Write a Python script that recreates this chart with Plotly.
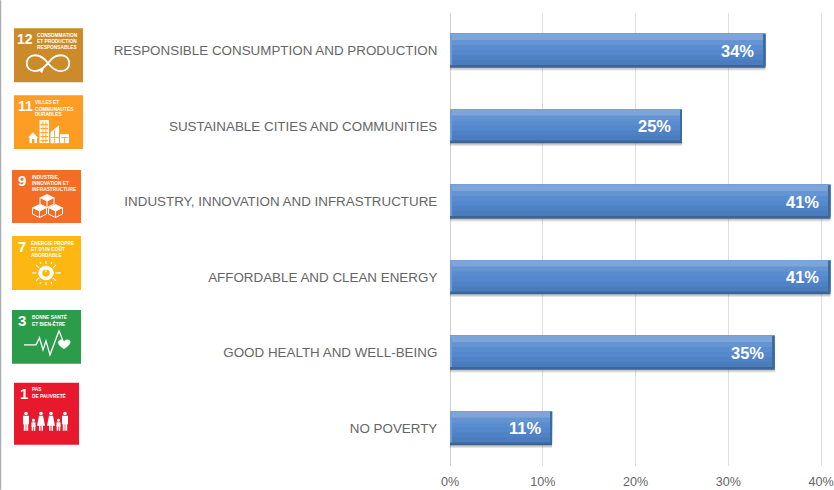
import plotly.graph_objects as go

categories = ["NO POVERTY", "GOOD HEALTH AND WELL-BEING", "AFFORDABLE AND CLEAN ENERGY",
              "INDUSTRY, INNOVATION AND INFRASTRUCTURE", "SUSTAINABLE CITIES AND COMMUNITIES",
              "RESPONSIBLE CONSUMPTION AND PRODUCTION"]
values = [11, 35, 41, 41, 25, 34]
x_ticks = [0, 10, 20, 30, 40]
x_tick_labels = ["0%", "10%", "20%", "30%", "40%"]

W, H = 834, 490
L, R, T, B = 450, 831, 12.7, 466.3


def px(x):
    return (x - L) / (R - L)


def py(y):
    return (B - y) / (B - T)


fig = go.Figure()


def strip(color, offset, width, base=None, xs=None):
    fig.add_bar(y=categories, x=xs if xs is not None else values, base=base, orientation="h",
                marker=dict(color=color, line_width=0), offset=offset, width=width,
                hoverinfo="skip", showlegend=False)


# soft shadow and bevelled body
strip("rgba(90,90,90,0.16)", -0.26, 0.45)
strip("rgba(90,90,90,0.22)", -0.245, 0.45)
strip("#3b6595", -0.225, 0.45)
bands = ["#4b7cbd", "#4f81c5", "#5487cb", "#5a8dcf", "#6494d2", "#7ea5d9"]
for i, c in enumerate(bands):
    # every band runs up to the bar's top, so that the next one overdraws it without a seam
    start = -0.19 + i * 0.0667
    strip(c, start, 0.225 - start)
strip("#6f9bd6", -0.19, 0.40, base=[0] * 6, xs=[0.12] * 6)
strip("#3f6a9e", -0.20, 0.42, base=[v - 0.2 for v in values], xs=[0.2] * 6)

annotations = []
for c, v in zip(categories, values):
    annotations.append(dict(x=v, y=c, xref="x", yref="y", text=f"<b>{v}%</b>", showarrow=False,
                            xanchor="right", xshift=-9, yshift=0,
                            font=dict(family="Liberation Sans", size=16.5, color="white")))

shapes = []


def rect(x0, y0, x1, y1, color):
    shapes.append(dict(type="rect", xref="paper", yref="paper", x0=px(x0), x1=px(x1), y0=py(y0), y1=py(y1),
                       fillcolor=color, line_width=0))


def path(points, color="white", fill=True, width=1.2):
    d = "M " + " L ".join(f"{px(a):.5f},{py(b):.5f}" for a, b in points) + (" Z" if fill else "")
    shapes.append(dict(type="path", xref="paper", yref="paper", path=d,
                       fillcolor=color if fill else "rgba(0,0,0,0)",
                       line=dict(color=color, width=0 if fill else width)))


def curve(cmds, fill=None, line="white", width=1.8):
    out = []
    for c in cmds:
        out.append(c[0] + " " + " ".join(f"{px(c[i]):.5f},{py(c[i + 1]):.5f}" for i in range(1, len(c), 2)))
    shapes.append(dict(type="path", xref="paper", yref="paper", path=" ".join(out),
                       fillcolor=fill or "rgba(0,0,0,0)", line=dict(color=line, width=width)))


def oval(x0, y0, x1, y1, fill=None, line="white", width=1.6):
    shapes.append(dict(type="circle", xref="paper", yref="paper", x0=px(x0), x1=px(x1), y0=py(y0), y1=py(y1),
                       fillcolor=fill or "rgba(0,0,0,0)", line=dict(color=line, width=width)))


rect(0, 0, 1.2, 490, "#a9adb1")

icons = [
    (14, 28, 83, 82, "#cb8b2a", "12", ["CONSOMMATION", "ET PRODUCTION", "RESPONSABLES"], 36),
    (14, 95, 83, 149, "#fd9d24", "11", ["VILLES ET", "COMMUNAUTÉS", "DURABLES"], 34),
    (12, 170, 81, 223, "#f36d25", "9", ["INDUSTRIE,", "INNOVATION ET", "INFRASTRUCTURE"], 31),
    (12, 236, 81, 290, "#fdb713", "7", ["ÉNERGIE PROPRE", "ET D'UN COÛT", "ABORDABLE"], 30),
    (12, 310, 81, 364, "#2b9c4a", "3", ["BONNE SANTÉ", "ET BIEN-ÊTRE"], 31),
    (14, 383, 79, 445, "#e9192d", "1", ["PAS", "DE PAUVRETÉ"], 31),
]
for x0, y0, x1, y1, col, num, lines, tx in icons:
    rect(x0, y0, x1, y1, col)
    annotations.append(dict(xref="paper", yref="paper", x=px(x0 + (11 if len(num) == 2 else 10)), y=py(y0 + 10.5),
                            text=f"<b>{num}</b>", showarrow=False, xanchor="center", yanchor="middle",
                            font=dict(family="Liberation Sans", size=14 if len(num) == 2 else 15, color="white")))
    for i, line in enumerate(lines):
        annotations.append(dict(xref="paper", yref="paper", x=px(tx), y=py(y0 + 7 + i * 6.2),
                                text=f"<b>{line}</b>", showarrow=False, xanchor="left", yanchor="middle", align="left",
                                borderpad=0, font=dict(family="Liberation Sans", size=4.8, color="white")))

# 12: infinity
curve([("M", 48, 63), ("C", 43, 56, 39, 55, 35, 55), ("C", 24, 55, 24, 71, 35, 71), ("C", 41, 71, 44, 67, 48, 63),
       ("C", 52, 58, 55, 55, 61, 55), ("C", 72, 55, 72, 71, 61, 71), ("C", 56, 71, 52, 68, 48, 63)])
path([(38, 69), (44, 68), (42, 73)])
# 11: buildings
rect(39.5, 120, 49, 143, "white")
path([(50.5, 143), (50.5, 132), (59, 125), (59, 143)])
rect(60, 134, 69, 143, "white")
rect(29.5, 137, 37, 143, "white")
path([(28, 137.5), (33, 132), (38, 137.5)])
for yy in (124, 128, 132, 136, 140):
    rect(40.5, yy, 48, yy + 1, "#fd9d24")
rect(42.5, 121, 43.3, 143, "#fd9d24")
rect(45.5, 121, 46.3, 143, "#fd9d24")
rect(54, 130, 54.8, 143, "#fd9d24")
rect(51, 137, 59, 137.8, "#fd9d24")
rect(61, 137, 68, 137.8, "#fd9d24")
rect(64, 137, 64.8, 143, "#fd9d24")
rect(32, 139, 34.5, 143, "#fd9d24")
# 9: cubes
for ox, oy in [(40, 194), (32.5, 204), (48.5, 204)]:
    path([(ox, oy + 3.5), (ox + 7, oy), (ox + 14, oy + 3.5), (ox + 7, oy + 7)])
    path([(ox, oy + 3.5), (ox, oy + 10), (ox + 7, oy + 13.5), (ox + 14, oy + 10), (ox + 14, oy + 3.5),
          (ox + 7, oy + 7), (ox + 7, oy + 13.5)], fill=False, width=1.0)
    path([(ox, oy + 3.5), (ox + 7, oy + 7)], fill=False, width=1.0)
# 7: sun
oval(38.5, 266, 53.5, 280, fill="white", line="white", width=0.5)
oval(42.5, 269.5, 49.5, 276.5, fill="#fdb713", line="#fdb713", width=0.5)
rect(45.4, 268, 46.6, 272, "white")
rays = [(32, 273, 36.5, 273), (55.5, 273, 61, 273), (46, 264, 46, 261), (46, 282, 46, 285),
        (36, 265, 39, 268), (56, 265, 53, 268), (36, 281, 39, 278), (56, 281, 53, 278),
        (40, 262, 41, 264), (52, 262, 51, 264), (40, 284, 41, 282), (52, 284, 51, 282)]
for a, b, c, d in rays:
    path([(a, b), (c, d)], fill=False, width=1.1)
# 3: pulse and heart
path([(24, 345), (36, 345), (39.5, 338), (43, 350), (46, 341), (50, 355), (59, 331), (63, 341)], fill=False, width=1.3)
curve([("M", 64, 349), ("C", 59, 346, 57, 343, 59, 341), ("C", 61, 339, 63, 340, 64, 342),
       ("C", 65, 340, 68, 339, 70, 341), ("C", 71, 343, 69, 346, 64, 349), ("Z",)], fill="white", width=0.5)
# 1: family
for cx in (26, 65):
    oval(cx - 1.8, 412, cx + 1.8, 415.5, fill="white", line="white", width=0)
    rect(cx - 3, 416, cx + 3, 424.5, "white")
    rect(cx - 2.2, 424, cx - 0.3, 431, "white")
    rect(cx + 0.3, 424, cx + 2.2, 431, "white")
for cx in (41, 51):
    oval(cx - 1.8, 412, cx + 1.8, 415.5, fill="white", line="white", width=0)
    path([(cx - 2, 416), (cx + 2, 416), (cx + 4, 426), (cx - 4, 426)])
    rect(cx - 2, 425, cx - 0.5, 431, "white")
    rect(cx + 0.5, 425, cx + 2, 431, "white")
for cx in (33.5, 58.5):
    oval(cx - 1.5, 419, cx + 1.5, 422, fill="white", line="white", width=0)
    rect(cx - 2, 422.5, cx + 2, 427, "white")
    rect(cx - 1.8, 426, cx - 0.3, 431, "white")
    rect(cx + 0.3, 426, cx + 1.8, 431, "white")

fig.update_layout(
    width=W, height=H, barmode="overlay", showlegend=False,
    plot_bgcolor="white", paper_bgcolor="white",
    margin=dict(l=L, r=W - R, t=T, b=H - B, autoexpand=False),
    shapes=shapes, annotations=annotations,
    xaxis=dict(range=[0, 41.06], tickvals=x_ticks, ticktext=x_tick_labels, showgrid=True, gridcolor="#dedede",
               gridwidth=1, zeroline=True, zerolinecolor="#d0d0d0", zerolinewidth=1, showline=False,
               ticks="outside", ticklen=4, tickcolor="rgba(0,0,0,0)", ticklabeloverflow="allow",
               tickfont=dict(family="Liberation Sans", size=12.6, color="#666666")),
    yaxis=dict(categoryorder="array", categoryarray=categories, showgrid=False, zeroline=False,
               ticks="outside", ticklen=9, tickcolor="rgba(0,0,0,0)",
               tickfont=dict(family="Liberation Sans", size=13.4, color="#666666")),
)
fig.write_html("out.html", config={"displayModeBar": False},
               post_script="document.body.style.margin='0';document.documentElement.style.overflow='hidden';")
